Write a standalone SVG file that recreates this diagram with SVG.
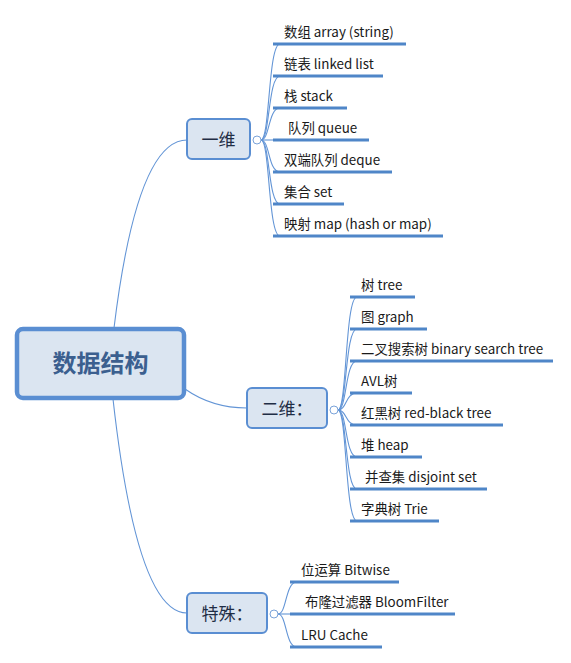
<svg xmlns="http://www.w3.org/2000/svg" width="571" height="663" viewBox="0 0 571 663">
<style>
.bg{fill:#ffffff}
.box{fill:#dbe5f1;stroke:#5a8ed2;stroke-width:2}
.root{fill:#dbe5f1;stroke:#5a8ed2;stroke-width:4.5}
.t{font-family:"Noto Sans CJK SC","Noto Sans",sans-serif;font-size:13.4px;fill:#1a1a1a}
.bt{font-family:"Noto Sans CJK SC","Noto Sans",sans-serif;font-size:17px;fill:#1f2d45;text-anchor:middle}
.rt{font-family:"Noto Sans CJK SC","Noto Sans",sans-serif;font-size:24px;font-weight:bold;fill:#3b5f8f;text-anchor:middle}
.c{fill:none;stroke:#6395d6;stroke-width:1.1}
.u{fill:none;stroke:#4f86c8;stroke-width:3}
.k{fill:#ffffff;stroke:#7aa3d9;stroke-width:1}
</style>
<rect class="bg" x="0" y="0" width="571" height="663"/>
<g id="connectors">
<path class="c" d="M114,328 Q137,140 187,140"/>
<path class="c" d="M185,389 Q212,408 247,408"/>
<path class="c" d="M113,399 Q137,613 187,613"/>
<path class="c" d="M261,140 C270,140 268,44 280,44"/>
<path class="c" d="M261,140 C270,140 268,76 280,76"/>
<path class="c" d="M261,140 C270,140 268,108 280,108"/>
<path class="c" d="M261,140 L280,140"/>
<path class="c" d="M261,140 C270,140 268,172 280,172"/>
<path class="c" d="M261,140 C270,140 268,204 280,204"/>
<path class="c" d="M261,140 C270,140 268,236 280,236"/>
<path class="c" d="M338,410 C347,410 345,297 357,297"/>
<path class="c" d="M338,410 C347,410 345,329 357,329"/>
<path class="c" d="M338,410 C347,410 345,361 357,361"/>
<path class="c" d="M338,410 C347,410 345,393 357,393"/>
<path class="c" d="M338,410 C347,410 345,425 357,425"/>
<path class="c" d="M338,410 C347,410 345,457 357,457"/>
<path class="c" d="M338,410 C347,410 345,489 357,489"/>
<path class="c" d="M338,410 C347,410 345,521 357,521"/>
<path class="c" d="M278,614 C287,614 285,582 297,582"/>
<path class="c" d="M278,614 L297,614"/>
<path class="c" d="M278,614 C287,614 285,647 297,647"/>
</g>
<g id="root">
<rect class="root" x="17" y="329" width="167" height="69" rx="6"/>
<text class="rt" x="100.5" y="372">数据结构</text>
</g>
<g id="n-1d">
<rect class="box" x="187" y="119" width="63" height="40" rx="5"/>
<text class="bt" x="218.5" y="146">一维</text>
<circle class="k" cx="257" cy="140" r="4"/>
</g>
<g id="n-2d">
<rect class="box" x="247" y="388" width="80" height="40" rx="5"/>
<text class="bt" x="287" y="415">二维：</text>
<circle class="k" cx="334" cy="410" r="4"/>
</g>
<g id="n-special">
<rect class="box" x="187" y="593" width="80" height="40" rx="5"/>
<text class="bt" x="227" y="620">特殊：</text>
<circle class="k" cx="274" cy="614" r="4"/>
</g>
<g id="leaves-1d">
<g id="l-array"><path class="u" d="M273,44H406"/><text class="t" x="284" y="37">数组 array (string)</text></g>
<g id="l-linked"><path class="u" d="M273,76H383"/><text class="t" x="284" y="69">链表 linked list</text></g>
<g id="l-stack"><path class="u" d="M273,108H347"/><text class="t" x="284" y="101">栈 stack</text></g>
<g id="l-queue"><path class="u" d="M273,140H369"/><text class="t" x="288" y="133">队列 queue</text></g>
<g id="l-deque"><path class="u" d="M273,172H392"/><text class="t" x="284" y="165">双端队列 deque</text></g>
<g id="l-set"><path class="u" d="M273,204H344"/><text class="t" x="284" y="197">集合 set</text></g>
<g id="l-map"><path class="u" d="M273,236H443"/><text class="t" x="284" y="229">映射 map (hash or map)</text></g>
</g>
<g id="leaves-2d">
<g id="l-tree"><path class="u" d="M350,297H415"/><text class="t" x="361" y="290">树 tree</text></g>
<g id="l-graph"><path class="u" d="M350,329H427"/><text class="t" x="361" y="322">图 graph</text></g>
<g id="l-bst"><path class="u" d="M350,361H553"/><text class="t" x="361" y="354">二叉搜索树 binary search tree</text></g>
<g id="l-avl"><path class="u" d="M350,393H412"/><text class="t" x="361" y="386">AVL树</text></g>
<g id="l-rb"><path class="u" d="M350,425H503"/><text class="t" x="361" y="418">红黑树 red-black tree</text></g>
<g id="l-heap"><path class="u" d="M350,457H422"/><text class="t" x="361" y="450">堆 heap</text></g>
<g id="l-dsu"><path class="u" d="M350,489H487"/><text class="t" x="365" y="482">并查集 disjoint set</text></g>
<g id="l-trie"><path class="u" d="M350,521H439"/><text class="t" x="361" y="514">字典树 Trie</text></g>
</g>
<g id="leaves-special">
<g id="l-bit"><path class="u" d="M290,582H399"/><text class="t" x="301" y="575">位运算 Bitwise</text></g>
<g id="l-bloom"><path class="u" d="M290,614H455"/><text class="t" x="305" y="607">布隆过滤器 BloomFilter</text></g>
<g id="l-lru"><path class="u" d="M290,647H382"/><text class="t" x="301" y="640">LRU Cache</text></g>
</g>
</svg>
